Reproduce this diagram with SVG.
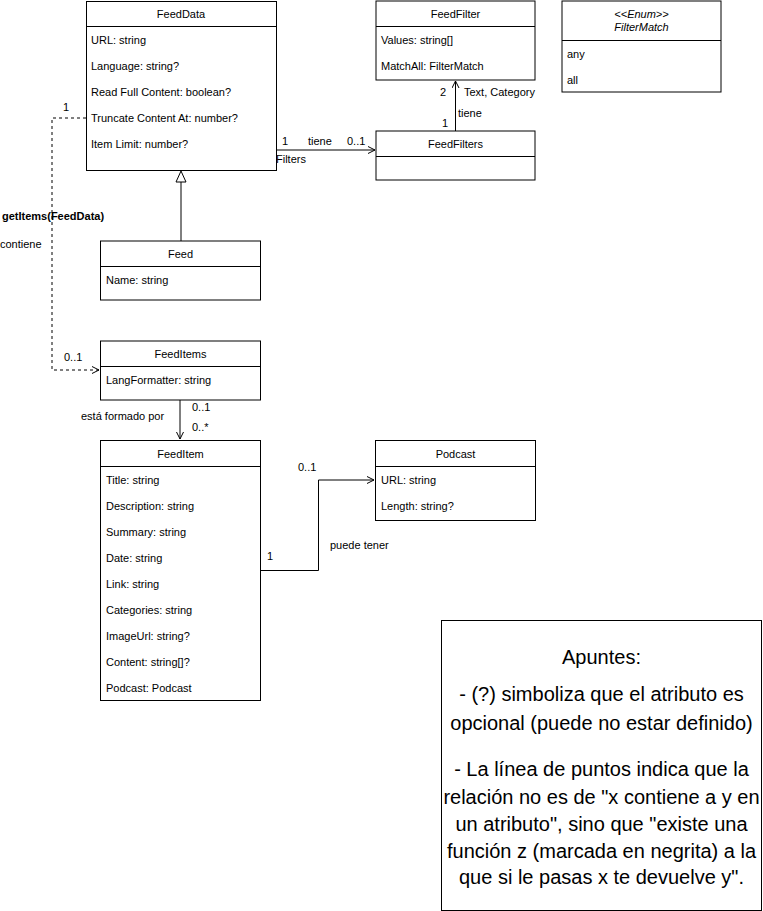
<svg xmlns="http://www.w3.org/2000/svg" width="763" height="911" viewBox="0 0 763 911">
<style>
text{font-family:"Liberation Sans",Arial,sans-serif;font-size:11px;fill:#000}
.box{fill:#fff;stroke:#000;stroke-width:1}
.ln{fill:none;stroke:#000;stroke-width:1}
.c{text-anchor:middle}
.b{font-weight:bold}
.i{font-style:italic}
.big{font-size:20px;text-anchor:middle}
</style>
<defs>
<marker id="open" markerWidth="10" markerHeight="10" refX="8" refY="4" orient="auto" markerUnits="userSpaceOnUse">
<path d="M1,0.5 L8,4 L1,7.5" fill="none" stroke="#000" stroke-width="1"/>
</marker>
</defs>
<rect width="763" height="911" fill="#fff"/>
<g id="connectors">
<line class="ln" x1="276" y1="150" x2="375" y2="150" marker-end="url(#open)"/>
<line class="ln" x1="455.5" y1="131" x2="455.5" y2="81" marker-end="url(#open)"/>
<line class="ln" x1="181" y1="241" x2="181" y2="182"/>
<path d="M181,171 L186,182 L176,182 Z" fill="#fff" stroke="#000"/>
<path class="ln" d="M86,118 H52 V370 H99" stroke-dasharray="3,3" marker-end="url(#open)"/>
<line class="ln" x1="180" y1="400" x2="180" y2="439" marker-end="url(#open)"/>
<path class="ln" d="M260,570.5 H318.5 V480 H374" marker-end="url(#open)"/>
<text x="282" y="145">1</text>
<text x="308" y="145">tiene</text>
<text x="347" y="145">0..1</text>
<text x="276" y="163">Filters</text>
<text x="440" y="96">2</text>
<text x="464" y="96">Text, Category</text>
<text x="458" y="117">tiene</text>
<text x="442" y="127">1</text>
<text x="63" y="111">1</text>
<text x="2" y="220" class="b">getItems(FeedData)</text>
<text x="0" y="248">contiene</text>
<text x="64" y="361">0..1</text>
<text x="192" y="411">0..1</text>
<text x="192" y="431">0..*</text>
<text x="81" y="420">está formado por</text>
<text x="298" y="471">0..1</text>
<text x="267" y="560">1</text>
<text x="330" y="549">puede tener</text>
</g>
<g id="FeedData">
<rect class="box" x="86.5" y="1.5" width="190" height="169"/>
<line class="ln" x1="86.5" y1="26.5" x2="276.5" y2="26.5"/>
<text class="c" x="181" y="18">FeedData</text>
<text x="91" y="44">URL: string</text>
<text x="91" y="70">Language: string?</text>
<text x="91" y="96">Read Full Content: boolean?</text>
<text x="91" y="122">Truncate Content At: number?</text>
<text x="91" y="148">Item Limit: number?</text>
</g>
<g id="FeedFilter">
<rect class="box" x="376" y="1" width="159" height="79"/>
<line class="ln" x1="376" y1="26.5" x2="535" y2="26.5"/>
<text class="c" x="455.5" y="18">FeedFilter</text>
<text x="381" y="44">Values: string[]</text>
<text x="381" y="70">MatchAll: FilterMatch</text>
</g>
<g id="FilterMatch">
<rect class="box" x="562" y="1" width="159" height="91"/>
<line class="ln" x1="562" y1="40.5" x2="721" y2="40.5"/>
<text class="c i" x="641.5" y="18">&lt;&lt;Enum&gt;&gt;</text>
<text class="c i" x="641.5" y="31">FilterMatch</text>
<text x="567" y="58">any</text>
<text x="567" y="84">all</text>
</g>
<g id="FeedFilters">
<rect class="box" x="376" y="131" width="159" height="49"/>
<line class="ln" x1="376" y1="156.5" x2="535" y2="156.5"/>
<text class="c" x="455.5" y="148">FeedFilters</text>
</g>
<g id="Feed">
<rect class="box" x="100.5" y="241" width="160" height="59"/>
<line class="ln" x1="100.5" y1="266.5" x2="260.5" y2="266.5"/>
<text class="c" x="180.5" y="258">Feed</text>
<text x="106" y="284">Name: string</text>
</g>
<g id="FeedItems">
<rect class="box" x="100.5" y="341" width="160" height="59"/>
<line class="ln" x1="100.5" y1="366.5" x2="260.5" y2="366.5"/>
<text class="c" x="180.5" y="358">FeedItems</text>
<text x="106" y="384">LangFormatter: string</text>
</g>
<g id="FeedItem">
<rect class="box" x="100.5" y="440.5" width="160" height="260"/>
<line class="ln" x1="100.5" y1="466.5" x2="260.5" y2="466.5"/>
<text class="c" x="180.5" y="458">FeedItem</text>
<text x="106" y="484">Title: string</text>
<text x="106" y="510">Description: string</text>
<text x="106" y="536">Summary: string</text>
<text x="106" y="562">Date: string</text>
<text x="106" y="588">Link: string</text>
<text x="106" y="614">Categories: string</text>
<text x="106" y="640">ImageUrl: string?</text>
<text x="106" y="666">Content: string[]?</text>
<text x="106" y="692">Podcast: Podcast</text>
</g>
<g id="Podcast">
<rect class="box" x="375.5" y="440.5" width="160" height="80"/>
<line class="ln" x1="375.5" y1="466.5" x2="535.5" y2="466.5"/>
<text class="c" x="455.5" y="458">Podcast</text>
<text x="381" y="484">URL: string</text>
<text x="381" y="510">Length: string?</text>
</g>
<g id="Apuntes">
<rect class="box" x="441.5" y="620.5" width="320" height="290"/>
<text class="big" x="601.5" y="664">Apuntes:</text>
<text class="big" x="601.5" y="701">- (?) simboliza que el atributo es</text>
<text class="big" x="601.5" y="730">opcional (puede no estar definido)</text>
<text class="big" x="601.5" y="776">- La línea de puntos indica que la</text>
<text class="big" x="601.5" y="804">relación no es de "x contiene a y en</text>
<text class="big" x="601.5" y="831">un atributo", sino que "existe una</text>
<text class="big" x="601.5" y="858">función z (marcada en negrita) a la</text>
<text class="big" x="601.5" y="884">que si le pasas x te devuelve y".</text>
</g>
</svg>
